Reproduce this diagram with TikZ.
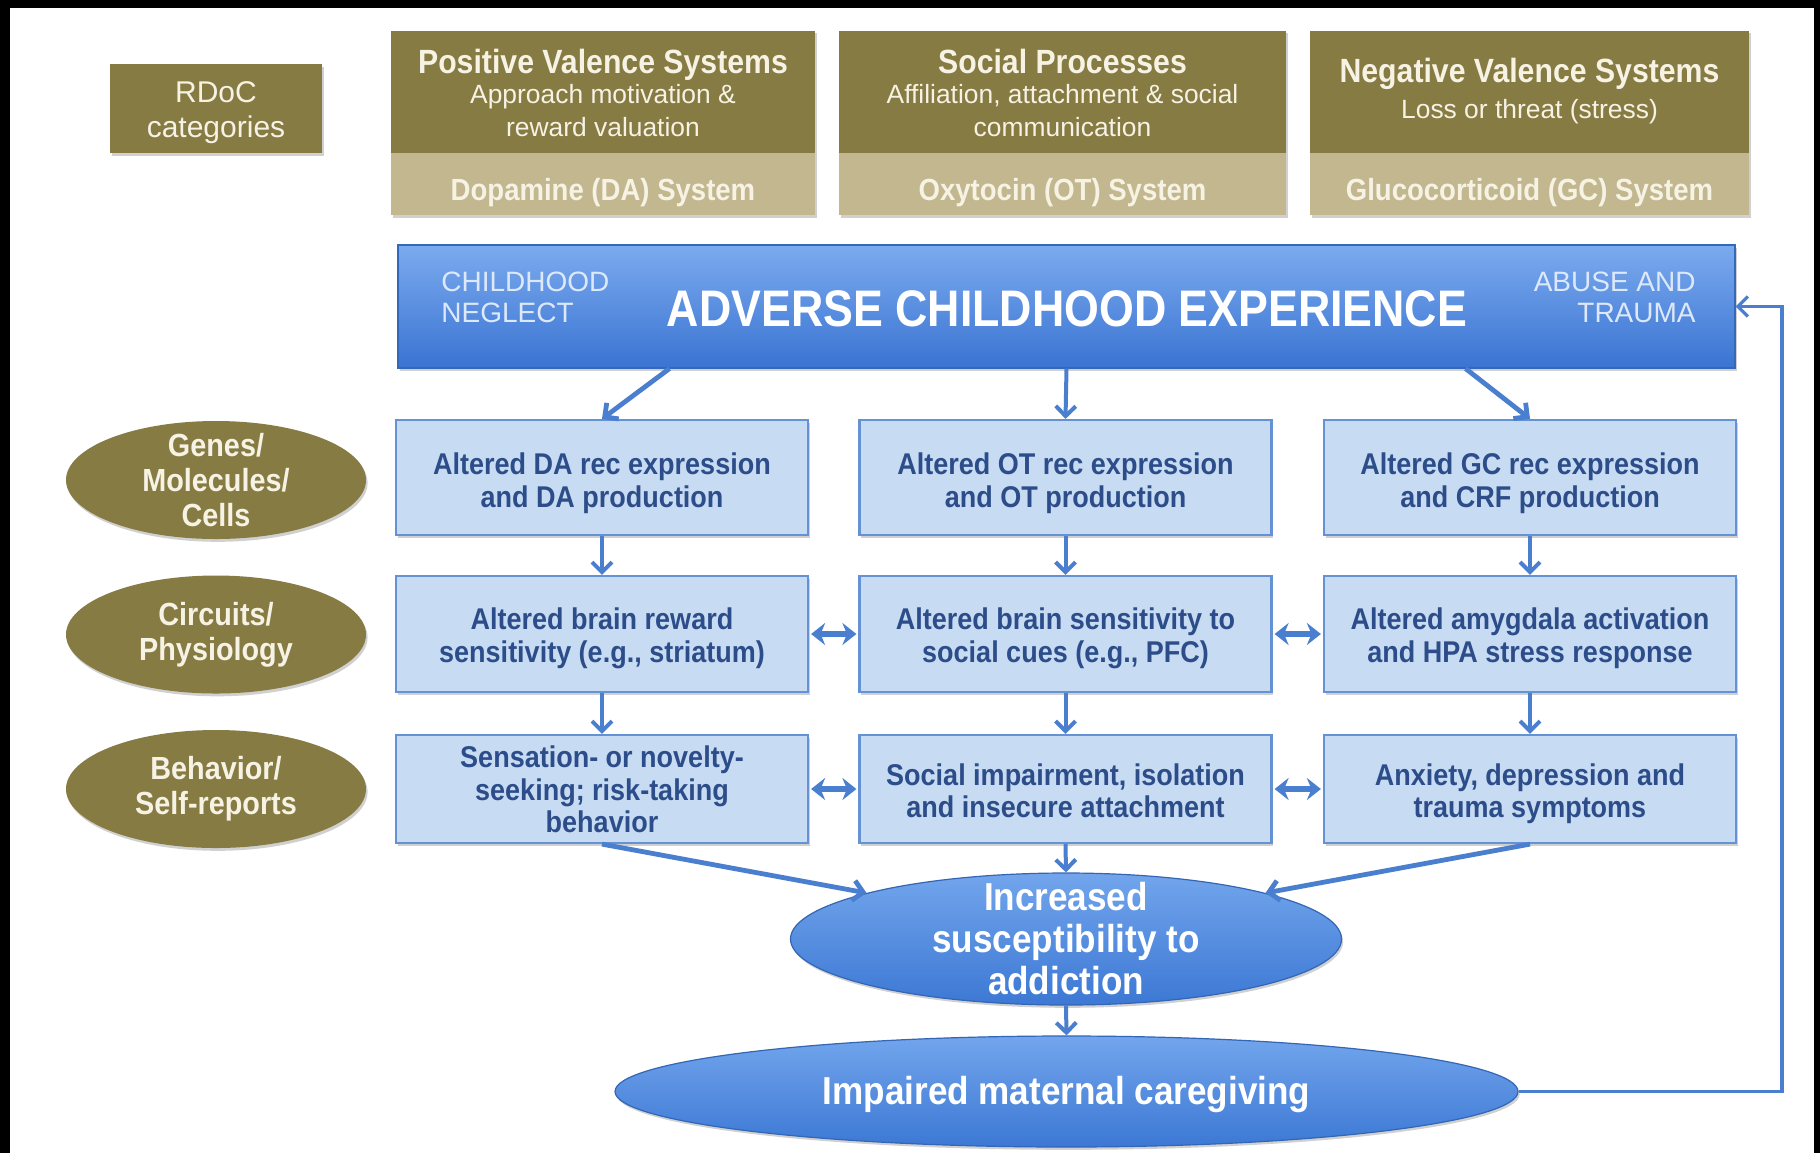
\documentclass[tikz,border=0pt]{standalone}
\usepackage{fontspec}
\setmainfont{Liberation Sans}
\newfontfamily\nar[FakeStretch=0.9]{Liberation Sans}
\newfontfamily\narr[FakeStretch=0.87]{Liberation Sans}
\usetikzlibrary{arrows.meta,shapes.geometric,shadows,calc}
\definecolor{rdOlive}{HTML}{877B44}
\definecolor{rdTan}{HTML}{C2B78E}
\definecolor{rdCream}{HTML}{F6F2E4}
\definecolor{aceTop}{HTML}{7BAAEE}
\definecolor{aceBot}{HTML}{3A74D2}
\definecolor{aceTxt}{HTML}{DDE9FA}
\definecolor{lbFill}{HTML}{C7DBF3}
\definecolor{lbDraw}{HTML}{6592D4}
\definecolor{lbTxt}{HTML}{2C4D89}
\definecolor{arrC}{HTML}{4A7ECE}
\definecolor{ellTop}{HTML}{72A5EC}
\definecolor{ellBot}{HTML}{3C78D4}
\begin{document}
\begin{tikzpicture}[x=0.5pt,y=-0.5pt,
  shadowed/.style={drop shadow={shadow xshift=0.8pt,shadow yshift=-1.4pt,opacity=0.3,fill=black!60}},
  obox/.style={rectangle,fill=rdOlive,inner sep=0pt,shadowed},
  tbox/.style={rectangle,fill=rdTan,inner sep=0pt,shadowed},
  otxt/.style={text=rdCream,inner sep=0pt,align=center,font=\fontsize{13.2}{16.5}\selectfont},
  ttxt/.style={text=rdCream,inner sep=0pt,font=\nar\bfseries\fontsize{15.3}{16}\selectfont},
  acebox/.style={rectangle,top color=aceTop,bottom color=aceBot,draw=aceBot!90!black,line width=0.6pt,inner sep=0pt,shadowed},
  lbox/.style={rectangle,fill=lbFill,draw=lbDraw,line width=1.1pt,inner sep=0pt,minimum width=206pt,shadowed},
  ltxt/.style={text=lbTxt,inner sep=0pt,align=center,font=\nar\bfseries\fontsize{15}{16.25}\selectfont},
  oell/.style={ellipse,fill=rdOlive,inner sep=0pt,minimum width=150pt,minimum height=59pt,shadowed},
  oelltxt/.style={text=rdCream,align=center,inner sep=0pt,font=\nar\bfseries\fontsize{16}{17.5}\selectfont},
  bell/.style={ellipse,top color=ellTop,bottom color=ellBot,draw=ellBot!85!black,line width=0.6pt,inner sep=0pt,shadowed},
  belltxt/.style={text=white,align=center,inner sep=0pt,font=\nar\bfseries\fontsize{19.5}{21}\selectfont},
  arr/.style={draw=arrC,line width=2pt,-{Straight Barb[length=5pt,width=10pt]}},
  darr/.style={draw=arrC,line width=3pt,{Stealth[length=7pt,width=11pt]}-{Stealth[length=7pt,width=11pt]},shorten <=1pt,shorten >=1pt},
  fb/.style={draw=arrC,line width=1.6pt,-{Straight Barb[length=5pt,width=10pt]}}
]
\useasboundingbox (0,0) rectangle (1820,1153);
\fill[white] (0,0) rectangle (1820,1153);
% black frame strips
\fill[black] (0,0) rectangle (1820,8);
\fill[black] (0,0) rectangle (10,1153);
\fill[black] (1814,0) rectangle (1820,1153);

% RDoC header row
\node[obox,minimum width=106pt,minimum height=44.5pt] (rdoc) at (216,108.5) {};
\node[otxt,font=\fontsize{15}{17.5}\selectfont] (rdoct) at (216,113) {RDoC\\categories};

\node[obox,minimum width=212pt,minimum height=61.5pt] (pvs) at (603,92) {};
\node[otxt] (pvst) at (603,92.7)
  {{\nar\bfseries\fontsize{16.8}{16.5}\selectfont Positive Valence Systems}\\[-1.5pt]
   Approach motivation \&\\reward valuation};
\node[tbox,minimum width=212pt,minimum height=31pt] (da) at (603,184) {};
\node[ttxt] (dat) at (603,192.5) {Dopamine (DA) System};

\node[obox,minimum width=223.5pt,minimum height=61.5pt] (sp) at (1062.5,92) {};
\node[otxt] (spt) at (1062.5,92.7)
  {{\nar\bfseries\fontsize{16.8}{16.5}\selectfont Social Processes}\\[-1.5pt]
   Affiliation, attachment \& social\\communication};
\node[tbox,minimum width=223.5pt,minimum height=31pt] (ot) at (1062.5,184) {};
\node[ttxt] (ott) at (1062.5,192.5) {Oxytocin (OT) System};

\node[obox,minimum width=219.5pt,minimum height=61.5pt] (nvs) at (1529.5,92) {};
\node[otxt] (nvst) at (1529.5,91)
  {{\nar\bfseries\fontsize{16.8}{16.5}\selectfont Negative Valence Systems}\\[1.5pt]
   Loss or threat (stress)};
\node[tbox,minimum width=219.5pt,minimum height=31pt] (gc) at (1529.5,184) {};
\node[ttxt] (gct) at (1529.5,192.5) {Glucocorticoid (GC) System};

% Adverse childhood experience
\node[acebox,minimum width=668.5pt,minimum height=61.5pt] (ace) at (1066.5,306.5) {};
\node[text=white,inner sep=0pt,font=\narr\bfseries\fontsize{25.7}{28}\selectfont] (acet) at (1067,309) {ADVERSE CHILDHOOD EXPERIENCE};
\node[anchor=west,align=left,inner sep=0pt,text=aceTxt,font=\fontsize{14}{15.5}\selectfont] (negl) at (441,297.5) {CHILDHOOD\\NEGLECT};
\node[anchor=east,align=right,inner sep=0pt,text=aceTxt,font=\fontsize{14}{15.5}\selectfont] (abuse) at (1696,297.5) {ABUSE AND\\TRAUMA};

% level ellipses
\node[oell] (genes) at (216,480) {};
\node[oelltxt] (genest) at (genes) {Genes/\\Molecules/\\Cells};
\node[oell] (circ) at (216,634.5) {};
\node[oelltxt] (circt) at (circ) {Circuits/\\Physiology};
\node[oell] (beh) at (216,789) {};
\node[oelltxt] (beht) at (beh) {Behavior/\\Self-reports};

% grid of boxes
\node[lbox,minimum height=57.5pt] (a1) at (602,477.5) {};
\node[lbox,minimum height=57.5pt] (b1) at (1065.5,477.5) {};
\node[lbox,minimum height=57.5pt] (c1) at (1530,477.5) {};
\node[lbox,minimum height=58pt] (a2) at (602,634) {};
\node[lbox,minimum height=58pt] (b2) at (1065.5,634) {};
\node[lbox,minimum height=58pt] (c2) at (1530,634) {};
\node[lbox,minimum height=54pt] (a3) at (602,789) {};
\node[lbox,minimum height=54pt] (b3) at (1065.5,789) {};
\node[lbox,minimum height=54pt] (c3) at (1530,789) {};

\node[ltxt] (a1t) at (602,484.5) {\strut Altered DA rec expression\\and DA production\strut};
\node[ltxt] (b1t) at (1065.5,484.5) {\strut Altered OT rec expression\\and OT production\strut};
\node[ltxt] (c1t) at (1530,484.5) {\strut Altered GC rec expression\\and CRF production\strut};
\node[ltxt] (a2t) at (602,639.5) {\strut Altered brain reward\\sensitivity (e.g., striatum)\strut};
\node[ltxt] (b2t) at (1065.5,639.5) {\strut Altered brain sensitivity to\\social cues (e.g., PFC)\strut};
\node[ltxt] (c2t) at (1530,639.5) {\strut Altered amygdala activation\\and HPA stress response\strut};
\node[ltxt] (a3t) at (602,793.5) {\strut Sensation- or novelty-\\seeking; risk-taking\\behavior\strut};
\node[ltxt] (b3t) at (1065.5,795) {\strut Social impairment, isolation\\and insecure attachment\strut};
\node[ltxt] (c3t) at (1530,795) {\strut Anxiety, depression and\\trauma symptoms\strut};

% outcome ellipses
\node[bell,minimum width=275.5pt,minimum height=66pt] (susc) at (1066,939) {};
\node[belltxt] (susct) at (1066,938.5) {Increased\\susceptibility to\\addiction};
\node[bell,minimum width=451.5pt,minimum height=55.5pt] (imp) at (1066.5,1091.5) {};
\node[belltxt] (impt) at (1066.5,1094) {Impaired maternal caregiving};

% connectors
\draw[arr,line width=2.4pt] ([xshift=136pt]ace.south west) -- (a1.north);
\draw[arr] (ace.south) -- (b1.north);
\draw[arr,line width=2.4pt] ([xshift=-135pt]ace.south east) -- (c1.north);

\foreach \u/\v in {a1/a2,b1/b2,c1/c2,a2/a3,b2/b3,c2/c3}{
  \draw[arr] (\u.south) -- (\v.north);
}
\draw[darr] (a2.east) -- (b2.west);
\draw[darr] (b2.east) -- (c2.west);
\draw[darr] (a3.east) -- (b3.west);
\draw[darr] (b3.east) -- (c3.west);

\draw[arr,line width=2.4pt] (a3.south) -- (susc.167);
\draw[arr] (b3.south) -- (susc.north);
\draw[arr,line width=2.4pt] (c3.south) -- (susc.13);
\draw[arr] (susc.south) -- (imp.north);

\coordinate (fbx) at (1782,0);
\draw[fb] (imp.east) -- (imp.east -| fbx) -- (fbx |- ace.east) -- (ace.east);
\end{tikzpicture}
\end{document}
